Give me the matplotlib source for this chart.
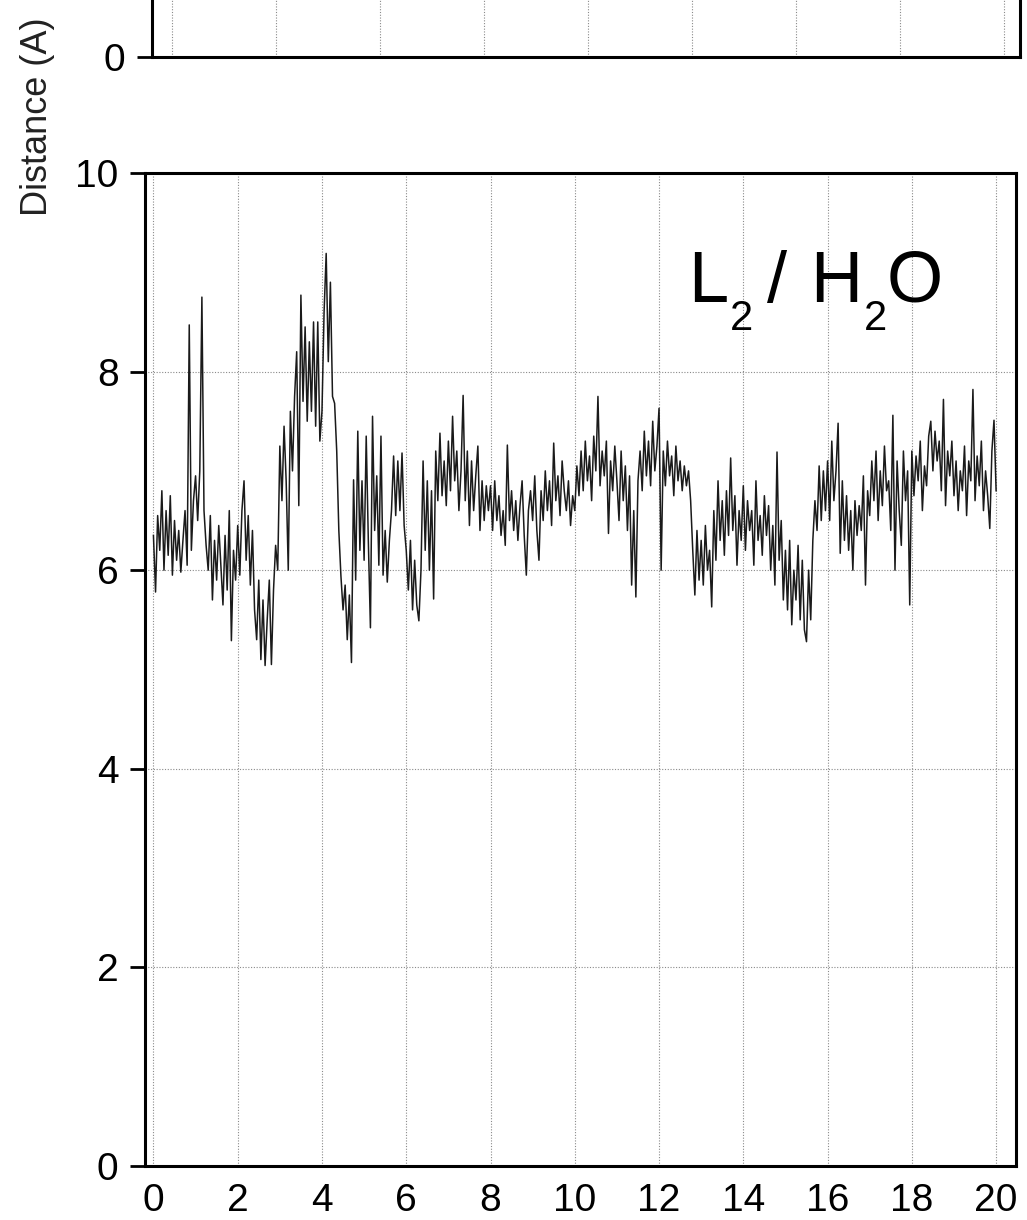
import numpy as np
import matplotlib
matplotlib.use("Agg")
import matplotlib.pyplot as plt

plt.rcParams['font.family'] = ['Liberation Sans', 'DejaVu Sans']

# distance trace, one value every 0.05 time units
time_step = 0.05
distance = [
    6.35, 5.78, 6.55, 6.2, 6.8, 6.0, 6.6, 6.15, 6.75, 5.95, 6.5, 6.1, 6.4, 5.98, 6.3, 6.6, 6.05, 8.47, 6.2, 6.7,
    6.95, 6.5, 7.0, 8.75, 6.6, 6.25, 6.0, 6.55, 5.7, 6.3, 5.9, 6.45, 6.05, 5.65, 6.35, 5.8, 6.6, 5.29, 6.2, 5.9,
    6.45, 5.95, 6.6, 6.9, 6.1, 6.55, 5.85, 6.4, 5.6, 5.3, 5.9, 5.1, 5.7, 5.04, 5.5, 5.9, 5.05, 5.8, 6.25, 6.0,
    7.25, 6.7, 7.45, 6.9, 6.0, 7.6, 7.0, 7.75, 8.2, 6.65, 8.77, 7.7, 8.45, 7.5, 8.3, 7.6, 8.5, 7.45, 8.5, 7.3,
    7.6, 8.6, 9.19, 8.1, 8.9, 7.75, 7.68, 7.2, 6.4, 5.94, 5.6, 5.85, 5.3, 5.75, 5.07, 6.91, 5.9, 7.4, 6.2, 6.9,
    6.1, 7.35, 6.3, 5.42, 7.55, 6.4, 6.95, 6.05, 7.35, 5.95, 6.4, 5.88, 6.3, 6.6, 7.15, 6.55, 7.1, 6.6, 7.18, 6.45,
    6.2, 5.8, 6.3, 5.6, 6.1, 5.65, 5.49, 6.0, 7.1, 6.2, 6.9, 6.0, 6.8, 5.71, 7.2, 6.7, 7.38, 6.75, 7.1, 6.65,
    7.3, 6.8, 7.55, 6.9, 7.2, 6.6, 7.0, 7.76, 6.7, 7.2, 6.45, 7.1, 6.6, 6.95, 7.25, 6.4, 6.9, 6.5, 6.85, 6.6,
    6.85, 6.4, 6.9, 6.5, 6.75, 6.35, 6.6, 6.25, 7.26, 6.5, 6.8, 6.4, 6.7, 6.3, 6.65, 6.9, 6.35, 5.95, 6.6, 6.8,
    6.5, 6.95, 6.4, 6.1, 6.8, 6.5, 7.0, 6.6, 6.9, 6.45, 7.28, 6.7, 6.95, 6.55, 7.1, 6.8, 6.6, 6.9, 6.45, 6.75,
    6.6, 7.05, 6.75, 7.2, 6.8, 7.3, 6.9, 7.15, 6.7, 7.35, 7.0, 7.75, 6.85, 7.2, 6.95, 7.3, 6.37, 7.1, 6.8, 7.25,
    6.9, 6.5, 7.2, 6.7, 7.05, 6.4, 6.95, 5.85, 6.6, 5.73, 6.9, 7.2, 6.8, 7.4, 6.95, 7.3, 6.85, 7.5, 7.0, 7.25,
    7.63, 6.0, 7.2, 6.85, 7.3, 6.95, 7.15, 6.75, 7.25, 6.9, 7.1, 6.8, 7.05, 6.85, 7.0, 6.7, 6.2, 5.75, 6.4, 5.9,
    6.3, 5.85, 6.45, 6.0, 6.2, 5.63, 6.6, 6.1, 6.9, 6.3, 6.7, 6.15, 6.8, 6.35, 7.13, 6.4, 6.75, 6.05, 6.6, 6.3,
    6.85, 6.2, 6.7, 6.4, 6.6, 6.05, 6.9, 6.3, 6.55, 6.15, 6.75, 6.35, 6.65, 6.0, 6.45, 5.85, 7.19, 6.1, 6.5, 5.7,
    6.2, 5.6, 6.3, 5.45, 6.0, 5.7, 6.25, 5.5, 6.1, 5.4, 5.28, 6.0, 5.5, 6.3, 6.7, 6.4, 7.05, 6.5, 7.0, 6.6,
    7.1, 6.5, 7.3, 6.7, 7.0, 7.48, 6.17, 6.9, 6.3, 6.75, 6.2, 6.6, 6.0, 6.7, 6.35, 6.65, 6.4, 6.95, 5.85, 6.8,
    6.55, 7.1, 6.7, 7.2, 6.5, 7.0, 6.65, 7.25, 6.8, 6.9, 6.4, 7.56, 6.0, 7.1, 6.6, 6.25, 7.2, 6.7, 7.0, 5.65,
    7.2, 6.75, 7.15, 6.9, 7.3, 6.6, 7.05, 6.85, 7.35, 7.5, 7.0, 7.4, 7.1, 7.3, 6.8, 7.72, 6.65, 7.2, 6.95, 7.3,
    6.75, 7.1, 6.6, 7.0, 6.8, 7.25, 6.55, 7.1, 6.9, 7.82, 6.7, 7.15, 6.85, 7.3, 6.6, 7.0, 6.75, 6.42, 7.2, 7.51,
    6.8,
]
time = np.arange(len(distance)) * time_step

x_ticks = [0, 2, 4, 6, 8, 10, 12, 14, 16, 18, 20]
y_ticks = [0, 2, 4, 6, 8, 10]
top_x_grid = [0, 1, 2, 3, 4, 5, 6, 7, 8]

# panel label "L2 / H2O" pieces: (text, is_subscript)
label_parts = [('L', False), ('2', True), ('/', False), ('H', False), ('2', True), ('O', False)]


def style_axes(ax):
    for s in ax.spines.values():
        s.set_linewidth(2.2)
        s.set_color('black')
    ax.grid(True, color='#8a8a8a', linestyle=(0, (1, 1.5)), linewidth=0.8)
    ax.set_axisbelow(True)
    ax.tick_params(axis='y', direction='out', length=11, width=2, pad=8, labelsize=28)
    ax.tick_params(axis='x', length=0, pad=12, labelsize=28)


fig = plt.figure(figsize=(10.27, 12.2), dpi=100)

# cropped upper panel (only its bottom edge shows)
ax_top = fig.add_axes([0.148, 0.9533, 0.845, 0.8139])
style_axes(ax_top)
ax_top.set_xlim(-0.19, 8.15)
ax_top.set_ylim(0, 10)
ax_top.set_xticks(top_x_grid)
ax_top.set_xticklabels([])
ax_top.set_yticks([0])
ax_top.grid(False, axis='y')

# main panel
ax = fig.add_axes([0.1412, 0.0443, 0.848, 0.8139])
style_axes(ax)
ax.plot(time, distance, color='#1a1a1a', linewidth=1.1)
ax.set_xlim(-0.2, 20.47)
ax.set_ylim(0, 10)
ax.set_xticks(x_ticks)
ax.set_yticks(y_ticks)

# place label pieces one after the other, subscripts dropped below the baseline
fig.canvas.draw()
renderer = fig.canvas.get_renderer()
W, H = fig.bbox.width, fig.bbox.height
px, base_y = 691.0, 302.0
gaps = [-3, 2, 14, 23, 1, 0]
for (txt, sub), gap in zip(label_parts, gaps):
    px += gap
    size = 30 if sub else 52
    y = base_y + (28 if sub else 0)
    t = fig.text(px / W, 1 - y / H, txt, fontsize=size, ha='left', va='baseline')
    px += t.get_window_extent(renderer).width

fig.text(0.037, 1 - 117 / 1220, 'Distance (A)', rotation=90, fontsize=26,
         ha='center', va='center', color='#222222')

fig.savefig('out.png', dpi=100)
